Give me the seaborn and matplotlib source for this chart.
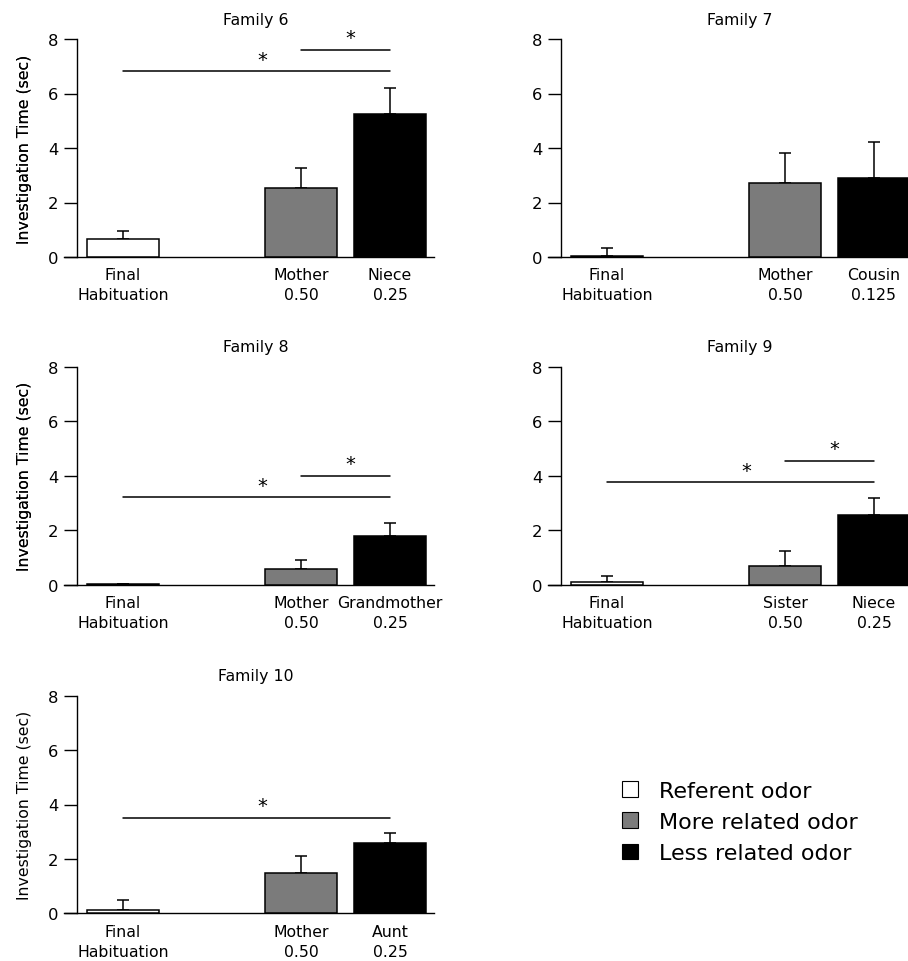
import matplotlib
matplotlib.use("Agg")
import matplotlib.pyplot as plt
from matplotlib.patches import Patch
import seaborn as sns
import pandas as pd
import numpy as np

sns.set_theme(style="white")
plt.rcParams['font.family'] = ['DejaVu Sans']
plt.rcParams['text.color'] = 'black'
plt.rcParams['axes.labelcolor'] = 'black'
plt.rcParams['xtick.color'] = 'black'
plt.rcParams['ytick.color'] = 'black'

# ---------------- data ----------------
families = ["Family 6", "Family 7", "Family 8", "Family 9", "Family 10"]
groups = ["Referent odor", "More related odor", "Less related odor"]
positions = [0, 2, 3]
tick_labels = [
    ["Final\nHabituation", "Mother\n0.50", "Niece\n0.25"],
    ["Final\nHabituation", "Mother\n0.50", "Cousin\n0.125"],
    ["Final\nHabituation", "Mother\n0.50", "Grandmother\n0.25"],
    ["Final\nHabituation", "Sister\n0.50", "Niece\n0.25"],
    ["Final\nHabituation", "Mother\n0.50", "Aunt\n0.25"],
]
means = [
    [0.65, 2.55, 5.25],
    [0.03, 2.70, 2.90],
    [0.02, 0.60, 1.80],
    [0.12, 0.70, 2.55],
    [0.12, 1.50, 2.60],
]
sems = [
    [0.32, 0.73, 0.95],
    [0.30, 1.10, 1.32],
    [0.00, 0.32, 0.47],
    [0.21, 0.53, 0.65],
    [0.38, 0.60, 0.35],
]
# significance bars: (x_start, x_end, y_line, y_star)
sig_bars = [
    [(0, 3, 6.81, 7.25), (2, 3, 7.60, 8.05)],
    [],
    [(0, 3, 3.21, 3.65), (2, 3, 4.00, 4.45)],
    [(0, 3, 3.76, 4.20), (2, 3, 4.55, 5.00)],
    [(0, 3, 3.50, 3.95)],
]
colors = {"Referent odor": "#ffffff", "More related odor": "#7b7b7b", "Less related odor": "#000000"}

# ---------------- layout ----------------
W, H = 908, 962
fig = plt.figure(figsize=(W / 100, H / 100), dpi=100)

unit = 89.0
col_final_px = [123, 607]          # pixel x of "Final" bar centre per column
row_zero_px = [258, 586, 914.3]    # pixel y of 0 per row
row_eight_px = [40, 367.7, 696.7]  # pixel y of 8 per row
xl, xr = -0.663, 3.494
spine_x = -0.517
FS = 11.3

for i, fam in enumerate(families):
    r, c = divmod(i, 2)
    left_px = col_final_px[c] + xl * unit
    right_px = col_final_px[c] + xr * unit
    top_px, bot_px = row_eight_px[r], row_zero_px[r]
    ax = fig.add_axes([left_px / W, 1 - bot_px / H, (right_px - left_px) / W, (bot_px - top_px) / H])
    ax.set_facecolor("none")

    df = pd.DataFrame({"pos": positions, "value": means[i], "group": groups})
    sns.barplot(data=df, x="pos", y="value", hue="group", palette=colors,
                native_scale=True, dodge=False, width=0.8, errorbar=None,
                edgecolor="black", linewidth=1.1, legend=False, ax=ax, zorder=3)
    ax.errorbar(positions, means[i], yerr=[np.zeros(3), sems[i]], fmt="none",
                ecolor="black", elinewidth=1.1, capsize=4, capthick=1.1, zorder=2)

    for (x0, x1, yl, ys) in sig_bars[i]:
        ax.plot([x0, x1], [yl, yl], color="black", lw=1.1, clip_on=False, zorder=4)
        ax.text((x0 + x1) / 2 + 0.06 if x0 == 0 else (x0 + x1) / 2 + 0.05, ys, "*",
                ha="center", va="center", fontsize=14, clip_on=False)

    ax.set_xlim(xl, xr)
    ax.set_ylim(0, 8)
    ax.set_yticks([0, 2, 4, 6, 8])
    ax.set_xticks(positions)
    ax.set_xticklabels(tick_labels[i], fontsize=FS, linespacing=1.4)
    ax.tick_params(axis="x", length=0, pad=7.5)
    ax.tick_params(axis="y", direction="out", length=9.5, width=1.0, pad=4,
                   labelsize=FS + 0.5, left=True, color="black")
    for s in ["top", "right"]:
        ax.spines[s].set_visible(False)
    ax.spines["left"].set_position(("data", spine_x))
    ax.spines["left"].set_bounds(0, 8)
    for s in ["left", "bottom"]:
        ax.spines[s].set_color("black")
        ax.spines[s].set_linewidth(1.0)
    ax.set_xlabel("")
    ax.set_ylabel("Investigation Time (sec)", fontsize=FS)
    ax.yaxis.set_label_coords((32 - left_px) / (right_px - left_px), 0.5)
    ax.set_title(fam, fontsize=FS, pad=11, x=((col_final_px[c] + spine_x * unit + right_px) / 2 - left_px) / (right_px - left_px))

handles = [Patch(facecolor=colors[g], edgecolor="black", linewidth=0.8, label=g) for g in groups]
fig.legend(handles=handles, loc="upper left", bbox_to_anchor=(622 / W, 1 - 782 / H),
           frameon=False, fontsize=16, handlelength=0.72, handleheight=0.72,
           handletextpad=0.95, labelspacing=0.5, borderpad=0, borderaxespad=0)

fig.savefig("out.png", dpi=100)
